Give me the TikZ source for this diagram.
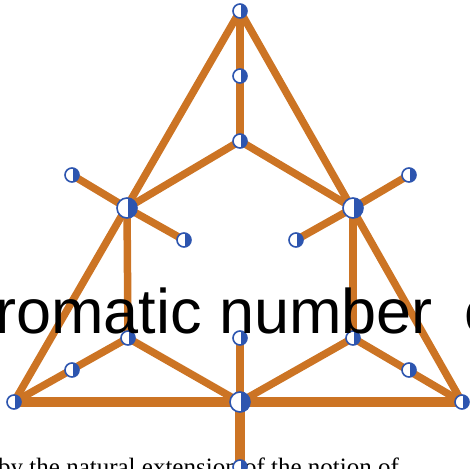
\documentclass[tikz,border=0pt]{standalone}
\usepackage{fontspec}
\setmainfont{Liberation Serif}
\newfontfamily\bigsans{Liberation Sans}
\definecolor{edgeor}{RGB}{204,116,36}
\definecolor{vblue}{RGB}{45,85,175}
\tikzset{
  edge/.style={draw=edgeor,line width=7.5pt},
  thick edge/.style={draw=edgeor,line width=9.5pt},
  vtx/.style={circle,draw=vblue,line width=1.6pt,fill=white,inner sep=0pt,minimum size=14pt,
    path picture={\fill[vblue] ([xshift=1pt]path picture bounding box.north) rectangle (path picture bounding box.south east);}},
  bigvtx/.style={vtx,minimum size=20pt},
}
\begin{document}
\begin{tikzpicture}[x=1pt,y=-1pt]
\useasboundingbox (0,0) rectangle (470,468);
\clip (0,0) rectangle (470,468);
% vertices
\coordinate (T) at (240,11);
\coordinate (M1) at (240,76);
\coordinate (C) at (240,141);
\coordinate (L) at (127,208);
\coordinate (R) at (353,208);
\coordinate (Lo) at (72,175);
\coordinate (Li) at (184,240);
\coordinate (Ro) at (409,175);
\coordinate (Ri) at (296,240);
\coordinate (BL) at (14,402);
\coordinate (BR) at (462,402);
\coordinate (B) at (240,402);
\coordinate (Bd) at (240,467);
\coordinate (LL) at (128,338);
\coordinate (LL2) at (72,370);
\coordinate (Bm) at (240,338);
\coordinate (RR) at (353,338);
\coordinate (RR2) at (409,370);
% edges
\draw[edge] (T) -- (BL);
\draw[edge] (T) -- (BR);
\draw[edge] (T) -- (C);
\draw[edge] (C) -- (L);
\draw[edge] (C) -- (R);
\draw[edge] (L) -- (Lo);
\draw[edge] (L) -- (Li);
\draw[edge] (R) -- (Ro);
\draw[edge] (R) -- (Ri);
\draw[edge] (L) -- (LL);
\draw[edge] (R) -- (RR);
\draw[edge] (LL) -- (BL);
\draw[edge] (RR) -- (BR);
\draw[edge] (LL) -- (B);
\draw[edge] (RR) -- (B);
\draw[edge] (Bm) -- (B);
\draw[thick edge] (BL) -- (BR);
\draw[thick edge] (B) -- (Bd);
% vertex marks
\foreach \p in {T,M1,C,Lo,Li,Ro,Ri,BL,BR,LL,LL2,Bm,RR,RR2}
  \node[vtx] (n\p) at (\p) {};
\foreach \p in {L,R,B}
  \node[bigvtx] (n\p) at (\p) {};
% overlaid texts
\node[anchor=base west,inner sep=0pt,font=\bigsans\fontsize{63}{74}\selectfont] (big) at (-5,333) {romatic number\hspace{14pt} o};
\node[anchor=base west,inner sep=0pt,font=\fontsize{25}{30}\selectfont] (cap) at (-2,475) {by the natural extension of the notion of};
\node[vtx] (nBd) at (Bd) {};
\end{tikzpicture}
\end{document}
